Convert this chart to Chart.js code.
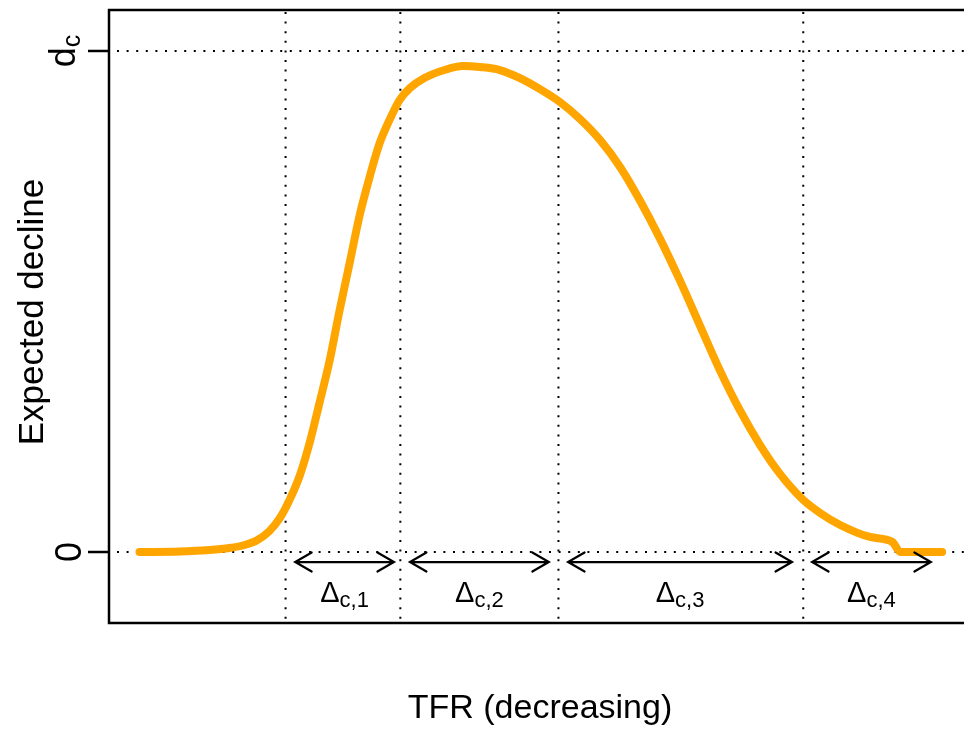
<!DOCTYPE html>
<html>
<head>
<meta charset="utf-8">
<script src="https://cdn.jsdelivr.net/npm/chart.js@4/dist/chart.umd.min.js"></script>
<style>
    html, body { margin: 0; padding: 0; background: #fff; overflow: hidden; }
    canvas { display: block; }
</style>
</head>
<body>
<canvas id="declineChart" width="990" height="731"></canvas>
<script>
// --- Data ---
const xTfr = [0, 5.0, 8.7, 11.2, 13.1, 14.7, 16.2, 17.5, 18.7, 20.0, 21.2, 22.4, 23.7, 24.9, 26.2, 27.4, 28.7,
    29.9, 31.2, 32.4, 33.7, 35.5, 38.0, 40.3, 42.4, 44.9, 47.4, 49.9, 52.4, 54.9, 57.4, 59.9, 62.3, 64.8,
    67.3, 69.8, 72.3, 74.8, 77.3, 79.8, 82.7, 84.8, 87.3, 91.0, 93.8, 94.8, 100];
const decline = [0, 0.001, 0.004, 0.008, 0.014, 0.024, 0.042, 0.068, 0.104, 0.154, 0.218, 0.296, 0.383, 0.480, 0.578, 0.670, 0.750,
    0.815, 0.864, 0.902, 0.926, 0.946, 0.962, 0.970, 0.968, 0.962, 0.946, 0.924, 0.898, 0.864, 0.822, 0.768, 0.703, 0.627,
    0.543, 0.453, 0.363, 0.283, 0.214, 0.156, 0.104, 0.078, 0.054, 0.030, 0.020, 0, 0];

const breakpoints = [18.2, 32.5, 52.2, 82.7];
const arrowFrom = [19.4, 33.7, 53.4, 83.8];
const arrowTo = [31.7, 51.0, 81.3, 98.6];
const segmentSubs = ['c,1', 'c,2', 'c,3', 'c,4'];

const yTickValues = [0, 1];
const yTickMain = ['0', 'd'];
const yTickSub = ['', 'c'];

const xTitle = 'TFR (decreasing)';
const yTitle = 'Expected decline';

document.addEventListener("DOMContentLoaded", () => {
    const FONT = '"Liberation Sans", Arial, Helvetica, sans-serif';
    const arrowY = -0.02;
    const labelY = -0.1;

    function dotted(ctx, x1, y1, x2, y2) {
        ctx.save();
        ctx.strokeStyle = '#000';
        ctx.lineWidth = 2;
        ctx.setLineDash([2, 7.6]);
        ctx.beginPath();
        ctx.moveTo(x1, y1);
        ctx.lineTo(x2, y2);
        ctx.stroke();
        ctx.restore();
    }

    function arrow(ctx, x1, x2, y) {
        const head = 19, ang = Math.PI / 6;
        ctx.save();
        ctx.strokeStyle = '#000';
        ctx.lineWidth = 2.2;
        ctx.lineCap = 'round';
        ctx.beginPath();
        ctx.moveTo(x1, y);
        ctx.lineTo(x2, y);
        ctx.moveTo(x1 + head * Math.cos(ang), y - head * Math.sin(ang));
        ctx.lineTo(x1, y);
        ctx.lineTo(x1 + head * Math.cos(ang), y + head * Math.sin(ang));
        ctx.moveTo(x2 - head * Math.cos(ang), y - head * Math.sin(ang));
        ctx.lineTo(x2, y);
        ctx.lineTo(x2 - head * Math.cos(ang), y + head * Math.sin(ang));
        ctx.stroke();
        ctx.restore();
    }

    // main text + subscript, centred on cx (in the current frame)
    function subText(ctx, main, sub, cx, base, mainSize, subSize, drop) {
        ctx.font = mainSize + 'px ' + FONT;
        const wm = ctx.measureText(main).width;
        ctx.font = subSize + 'px ' + FONT;
        const ws = sub ? ctx.measureText(sub).width : 0;
        const start = cx - (wm + ws) / 2;
        ctx.textAlign = 'left';
        ctx.textBaseline = 'alphabetic';
        ctx.font = mainSize + 'px ' + FONT;
        ctx.fillText(main, start, base);
        if (sub) {
            ctx.font = subSize + 'px ' + FONT;
            ctx.fillText(sub, start + wm, base + drop);
        }
    }

    // --- Reference lines (under the curve) ---
    const guides = {
        id: 'guides',
        beforeDatasetsDraw(chart) {
            const { ctx, chartArea: a, scales: { x, y } } = chart;
            yTickValues.forEach(v => dotted(ctx, a.left + 8, y.getPixelForValue(v), a.right, y.getPixelForValue(v)));
            breakpoints.forEach(b => dotted(ctx, x.getPixelForValue(b), a.top + 2, x.getPixelForValue(b), a.bottom));
        }
    };

    // --- Box, axes, arrows, labels ---
    const frame = {
        id: 'frame',
        afterDraw(chart) {
            const { ctx, chartArea: a, scales: { x, y } } = chart;
            ctx.save();
            ctx.strokeStyle = '#000';
            ctx.lineWidth = 2.5;
            ctx.strokeRect(a.left, a.top, a.right - a.left, a.bottom - a.top);

            // y ticks
            ctx.fillStyle = '#000';
            yTickValues.forEach((v, i) => {
                const py = y.getPixelForValue(v);
                ctx.beginPath();
                ctx.moveTo(a.left - 21, py);
                ctx.lineTo(a.left, py);
                ctx.stroke();
                ctx.save();
                ctx.translate(yTickSub[i] ? 75 : 81, py);
                ctx.rotate(-Math.PI / 2);
                subText(ctx, yTickMain[i], yTickSub[i], 0, 0, 36, 25, 5);
                ctx.restore();
            });

            // segment arrows and Δ labels
            arrowFrom.forEach((f, i) => {
                const x1 = x.getPixelForValue(f), x2 = x.getPixelForValue(arrowTo[i]);
                arrow(ctx, x1, x2, y.getPixelForValue(arrowY));
                subText(ctx, '\u0394', segmentSubs[i], (x1 + x2) / 2, y.getPixelForValue(labelY), 29, 22, 5);
            });

            // axis titles
            ctx.font = '34px ' + FONT;
            ctx.textAlign = 'center';
            ctx.textBaseline = 'alphabetic';
            ctx.fillText(xTitle, 540, 718);
            ctx.save();
            ctx.translate(43, 312);
            ctx.rotate(-Math.PI / 2);
            ctx.font = '35px ' + FONT;
            ctx.fillText(yTitle, 0, 0);
            ctx.restore();
            ctx.restore();
        }
    };

    new Chart(document.getElementById('declineChart'), {
        type: 'line',
        data: {
            datasets: [{
                data: xTfr.map((v, i) => ({ x: v, y: decline[i] })),
                borderColor: '#FFA500',
                borderWidth: 8,
                borderCapStyle: 'round',
                borderJoinStyle: 'round',
                pointRadius: 0,
                cubicInterpolationMode: 'monotone',
                fill: false
            }]
        },
        options: {
            responsive: false,
            animation: false,
            devicePixelRatio: 1,
            layout: { padding: { left: 109, top: 10, right: 15, bottom: 108 } },
            plugins: { legend: { display: false }, tooltip: { enabled: false } },
            scales: {
                x: { type: 'linear', display: false, min: -3.8, max: 104.1 },
                y: { display: false, min: -0.1417, max: 1.0818 }
            }
        },
        plugins: [guides, frame]
    });
});
</script>
</body>
</html>
